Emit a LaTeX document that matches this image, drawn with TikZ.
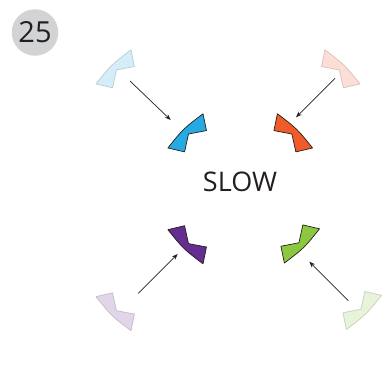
\documentclass[tikz,border=0pt]{standalone}
\usepackage{fontspec}
\setmainfont{Open Sans}
\usetikzlibrary{arrows.meta}
\definecolor{slowblue}{HTML}{27AAE1}
\definecolor{sloworange}{HTML}{F15A29}
\definecolor{slowpurple}{HTML}{662D91}
\definecolor{slowgreen}{HTML}{8DC63F}
\definecolor{badgegray}{HTML}{D1D3D4}
\definecolor{inkdark}{HTML}{231F20}
\tikzstyle{arrow} = [line width=0.7pt, inkdark, ->, >={Stealth[length=6pt,width=4.5pt]}]
\tikzstyle{chevron} = [draw=inkdark, line width=0.7pt, line join=round]
\tikzstyle{ghost} = [chevron, opacity=0.2]
\tikzset{
  slowpic/.pic={
    \path[pic actions] (-151.3:83.4) .. controls (-134.2:82.7) .. (-117.1:83.4)
      -- (-121:67) -- (-134.2:75.3) -- (-147.4:67) -- cycle;
  }
}

\begin{document}
\begin{tikzpicture}[x=1pt, y=-1pt]
    \useasboundingbox (0,0) rectangle (391,367);

    % Badge and word
    \node (badge) [circle, fill=badgegray, minimum size=46.5pt, inner sep=0pt, text=inkdark, font=\fontsize{29}{29}\selectfont] at (35,32.5) {25};
    \node (slow) [text=inkdark, font=\fontsize{27}{27}\selectfont] at (240,182) {SLOW};

    % Faded start positions
    \pic [ghost, fill=slowblue] at (169,124) {slowpic};
    \pic [ghost, fill=sloworange, xscale=-1] at (286.9,124) {slowpic};
    \pic [ghost, fill=slowpurple, yscale=-1] at (169,256.6) {slowpic};
    \pic [ghost, fill=slowgreen, rotate=180] at (308.4,255.3) {slowpic};

    % Solid end positions
    \pic [chevron, fill=slowblue] at (241,188) {slowpic};
    \pic [chevron, fill=sloworange, xscale=-1] at (239.4,188) {slowpic};
    \pic [chevron, fill=slowpurple, yscale=-1] at (241,189.6) {slowpic};
    \pic [chevron, fill=slowgreen, rotate=180] at (246.4,188.8) {slowpic};

    % ==== Arrows
    \coordinate (bluefrom) at (130,81);
    \coordinate (blueto) at (170.7,120);
    \coordinate (orangefrom) at (335,78.3);
    \coordinate (orangeto) at (296,117.3);
    \coordinate (purplefrom) at (138.3,293.3);
    \coordinate (purpleto) at (177.7,254);
    \coordinate (greenfrom) at (348.3,300.7);
    \coordinate (greento) at (309.3,261.7);

    \draw [arrow] (bluefrom) -- (blueto);
    \draw [arrow] (orangefrom) -- (orangeto);
    \draw [arrow] (purplefrom) -- (purpleto);
    \draw [arrow] (greenfrom) -- (greento);

\end{tikzpicture}
\end{document}
